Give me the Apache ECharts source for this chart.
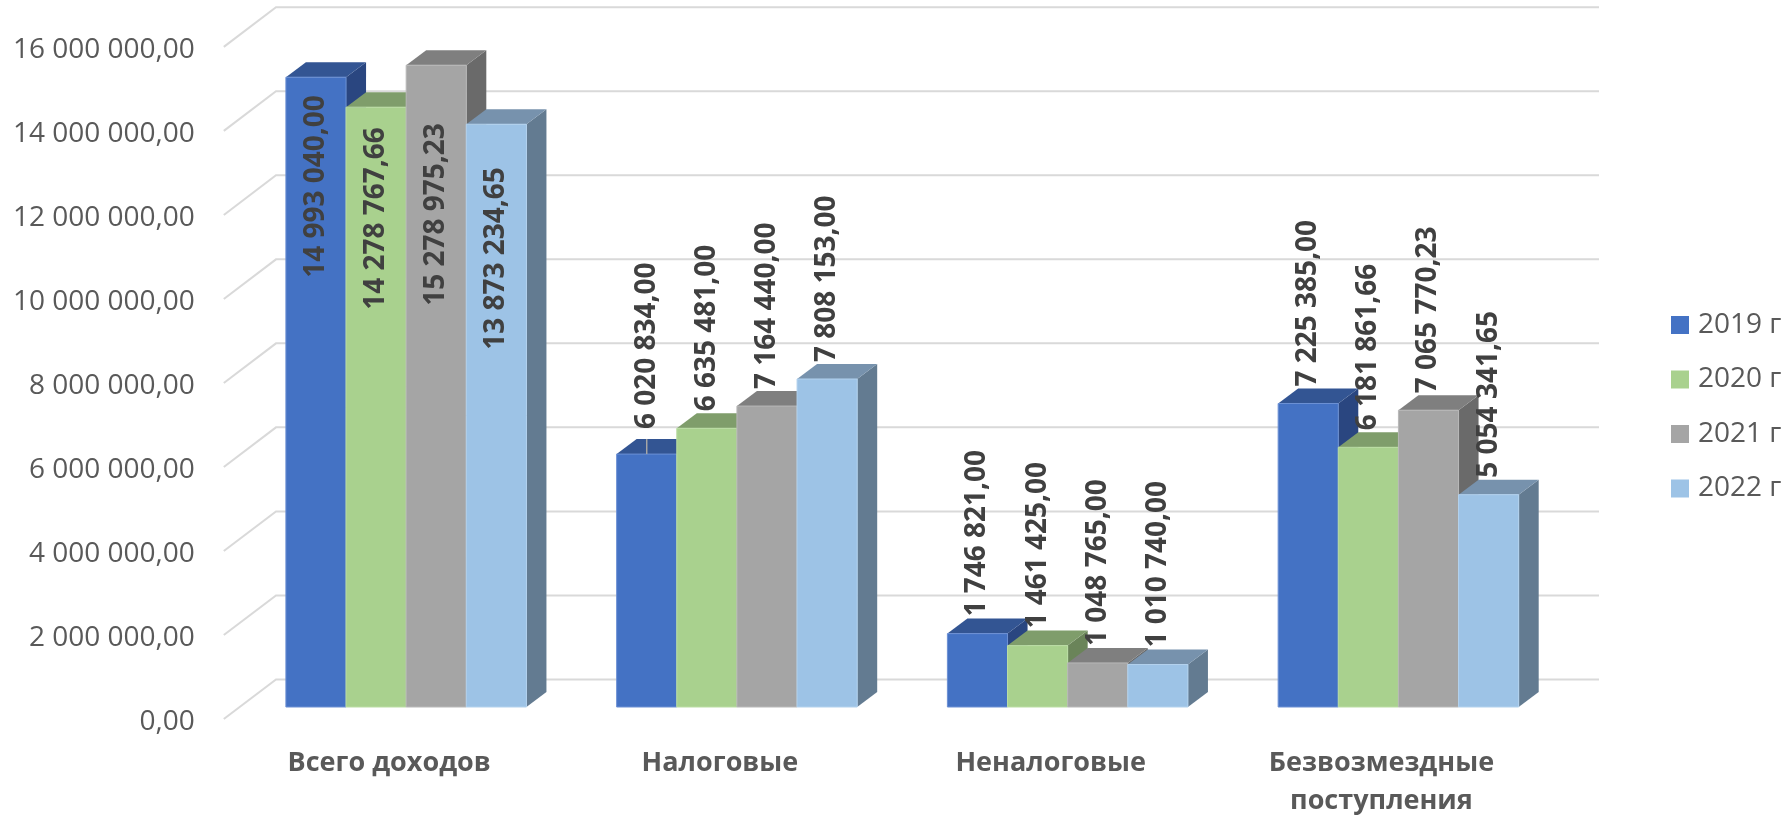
<!DOCTYPE html>
<html>
<head>
<meta charset="utf-8">
<title>Доходы</title>
<style>
  html, body { margin: 0; padding: 0; background: #fff; }
  #chart { width: 1786px; height: 820px; }
</style>
</head>
<body>
<div id="chart"></div>
<script src="https://cdn.jsdelivr.net/npm/echarts@6/dist/echarts.min.js"></script>
<script>
const categories = ['Всего доходов', 'Налоговые', 'Неналоговые', 'Безвозмездные\nпоступления']
const years = ['2019 г', '2020 г', '2021 г', '2022 г']
const values2019 = [14993040.00, 6020834.00, 1746821.00, 7225385.00]
const values2020 = [14278767.66, 6635481.00, 1461425.00, 6181861.66]
const values2021 = [15278975.23, 7164440.00, 1048765.00, 7065770.23]
const values2022 = [13873234.65, 7808153.00, 1010740.00, 5054341.65]
const yTicks = [0, 2000000, 4000000, 6000000, 8000000, 10000000, 12000000, 14000000, 16000000]

// front, top and side colours of the 3d bars
const faces = [
  { front: '#4472C4', top: '#335593', side: '#2A4680', edge: '#6C90D4' },
  { front: '#A9D18E', top: '#7F9D6B', side: '#6A8459', edge: '#BBDDA4' },
  { front: '#A5A5A5', top: '#7F7F7F', side: '#6A6A6A', edge: '#B8B8B8' },
  { front: '#9DC3E6', top: '#7792AD', side: '#637B91', edge: '#B3D2EE' }
]
const seriesValues = [values2019, values2020, values2021, values2022]

const FONT = '"Open Sans", "Noto Sans", sans-serif'
const DEPTH_X = 20
const DEPTH_Y = 15
// first group labels sit inside the bars: gap from the bar top down to the label
const insideGap = [18, 20, 58, 43]

function fmt(v) {
  const parts = v.toFixed(2).split('.')
  return parts[0].replace(/\B(?=(\d{3})+(?!\d))/g, ' ') + ',' + parts[1]
}

function renderWall(params, api) {
  const y = api.coord([0, api.value(1)])[1]
  const sys = params.coordSys
  const style = { stroke: '#D9D9D9', lineWidth: 2, fill: null }
  return {
    type: 'group',
    children: [
      {
        type: 'polyline',
        shape: { points: [[sys.x - 17, y + 12], [sys.x + 35.2, y - 27.6], [sys.x + sys.width + 35.2, y - 27.6]] },
        style: style
      }
    ]
  }
}

function makeRenderBar(idx) {
  const c = faces[idx]
  return function (params, api) {
    const cat = api.value(0)
    const val = api.value(1)
    const p = api.coord([cat, val])
    const base = api.coord([cat, 0])
    const bw = api.size([1, 0])[0] / 5.5
    const x0 = p[0] - 2 * bw + idx * bw
    const x1 = x0 + bw
    const top = p[1]
    const bottom = base[1]
    const children = [
      {
        type: 'polygon',
        shape: { points: [[x1, top], [x1 + DEPTH_X, top - DEPTH_Y], [x1 + DEPTH_X, bottom - DEPTH_Y], [x1, bottom]] },
        style: { fill: c.side }
      },
      {
        type: 'polygon',
        shape: { points: [[x0, top], [x0 + DEPTH_X, top - DEPTH_Y], [x1 + DEPTH_X, top - DEPTH_Y], [x1, top]] },
        style: { fill: c.top }
      },
      {
        type: 'rect',
        shape: { x: x0, y: top, width: bw, height: bottom - top },
        style: { fill: c.front, stroke: c.edge, lineWidth: 1 }
      }
    ]
    const cx = x0 + bw / 2
    const inside = cat === 0
    // small leader line on the 2019 label of the second group
    if (idx === 0 && cat === 1) {
      children.push({
        type: 'line',
        shape: { x1: cx, y1: top - 15, x2: cx, y2: top },
        style: { stroke: '#A6A6A6', lineWidth: 1.5 }
      })
    }
    children.push({
      type: 'text',
      x: cx,
      y: inside ? top + insideGap[idx] : top - (idx === 0 && cat === 1 ? 25 : 17),
      rotation: Math.PI / 2,
      style: {
        text: fmt(val),
        font: 'bold 28px ' + FONT,
        fill: '#404040',
        align: inside ? 'right' : 'left',
        verticalAlign: 'middle'
      }
    })
    return { type: 'group', children: children }
  }
}

const series = [{
  type: 'custom',
  name: 'walls',
  silent: true,
  z: 1,
  encode: { x: 0, y: 1 },
  data: yTicks.map(v => [0, v]),
  renderItem: renderWall
}]
seriesValues.forEach((vals, idx) => {
  series.push({
    type: 'custom',
    name: years[idx],
    z: 2,
    itemStyle: { color: faces[idx].front },
    encode: { x: 0, y: 1 },
    data: vals.map((v, i) => [i, v]),
    renderItem: makeRenderBar(idx)
  })
})

const chart = echarts.init(document.getElementById('chart'))
chart.setOption({
  animation: false,
  backgroundColor: '#fff',
  textStyle: { fontFamily: FONT },
  grid: { left: 240.8, top: 34.9, width: 1323, height: 676.6 },
  legend: {
    data: years,
    orient: 'vertical',
    left: 1666,
    top: 306,
    itemWidth: 18,
    itemHeight: 18,
    itemGap: 26.5,
    icon: 'rect',
    textStyle: { color: '#595959', fontSize: 28, fontFamily: FONT, lineHeight: 28, padding: [0, 0, 0, 4] }
  },
  xAxis: {
    type: 'category',
    data: categories,
    axisLine: { show: false },
    axisTick: { show: false },
    axisLabel: {
      interval: 0,
      margin: 37,
      color: '#595959',
      fontSize: 27,
      fontWeight: 'bold',
      fontFamily: FONT,
      lineHeight: 38,
      padding: [0, 34, 0, 0]
    }
  },
  yAxis: {
    type: 'value',
    min: 0,
    max: 16000000,
    interval: 2000000,
    axisLine: { show: false },
    axisTick: { show: false },
    splitLine: { show: false },
    axisLabel: {
      margin: 46,
      color: '#595959',
      fontSize: 28,
      fontFamily: FONT,
      verticalAlign: 'top',
      lineHeight: 30,
      formatter: v => fmt(v)
    }
  },
  series: series
})
</script>
</body>
</html>
